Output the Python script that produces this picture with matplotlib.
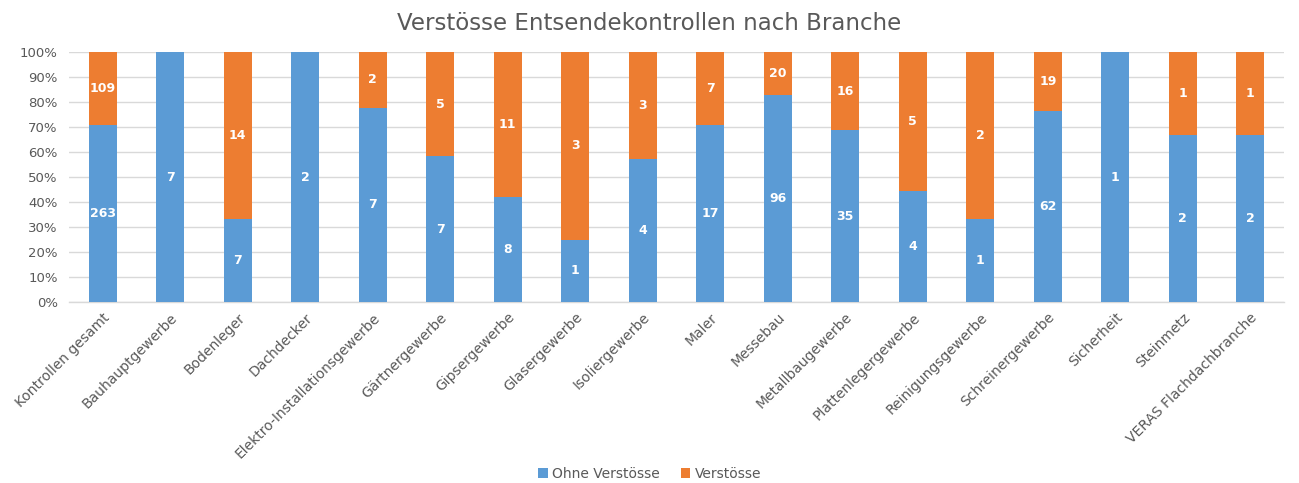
import matplotlib
matplotlib.use("Agg")
import matplotlib.pyplot as plt
import numpy as np

categories = ["Kontrollen gesamt", "Bauhauptgewerbe", "Bodenleger", "Dachdecker",
              "Elektro-Installationsgewerbe", "Gärtnergewerbe", "Gipsergewerbe",
              "Glasergewerbe", "Isoliergewerbe", "Maler", "Messebau", "Metallbaugewerbe",
              "Plattenlegergewerbe", "Reinigungsgewerbe", "Schreinergewerbe",
              "Sicherheit", "Steinmetz", "VERAS Flachdachbranche"]
ohne = [263, 7, 7, 2, 7, 7, 8, 1, 4, 17, 96, 35, 4, 1, 62, 1, 2, 2]
mit = [109, 0, 14, 0, 2, 5, 11, 3, 3, 7, 20, 16, 5, 2, 19, 0, 1, 1]

plt.rcParams['font.family'] = ['DejaVu Sans']
blue = "#5b9bd5"
orange = "#ed7d31"
gray = "#595959"

fig = plt.figure(figsize=(12.99, 4.83), dpi=100)
ax = fig.add_axes([0.0531, 0.3747, 0.9354, 0.5176])

ohne_a = np.array(ohne, float)
mit_a = np.array(mit, float)
tot = ohne_a + mit_a
p1 = ohne_a / tot * 100
p2 = mit_a / tot * 100
x = np.arange(len(categories))
w = 0.41
ax.bar(x, p1, w, color=blue, label="Ohne Verstösse", zorder=3)
ax.bar(x, p2, w, bottom=p1, color=orange, label="Verstösse", zorder=3)

for i in range(len(x)):
    if ohne[i] > 0:
        ax.text(x[i], p1[i] / 2, str(ohne[i]), ha="center", va="center",
                color="white", fontsize=9, fontweight="bold", zorder=4)
    if mit[i] > 0:
        ax.text(x[i], p1[i] + p2[i] / 2, str(mit[i]), ha="center", va="center",
                color="white", fontsize=9, fontweight="bold", zorder=4)

ax.set_xlim(-0.5, len(x) - 0.5)
ax.set_ylim(0, 100)
ax.set_yticks(np.arange(0, 101, 10))
ax.set_yticklabels([f"{v}%" for v in range(0, 101, 10)])
ax.yaxis.grid(True, color="#d9d9d9", linewidth=1, zorder=0)
ax.set_axisbelow(True)
for s in ["top", "right", "left"]:
    ax.spines[s].set_visible(False)
ax.spines["bottom"].set_color("#d9d9d9")
ax.spines["bottom"].set_linewidth(1)
ax.tick_params(axis="both", length=0, colors=gray, labelsize=10)
ax.tick_params(axis="y", pad=8, labelsize=9.5)
ax.set_xticks(x)
ax.set_xticklabels(categories, rotation=45, ha="right", rotation_mode="anchor")
ax.tick_params(axis="x", pad=6)

fig.suptitle("Verstösse Entsendekontrollen nach Branche", x=0.5, y=0.975,
             fontsize=16.5, color=gray, va="top")
fig.legend(loc="lower center", bbox_to_anchor=(0.5, -0.022), ncol=2, frameon=False,
           fontsize=10, labelcolor=gray, handlelength=0.7, handleheight=0.7,
           handletextpad=0.3, columnspacing=1.5)

fig.savefig("out.png", dpi=100)
